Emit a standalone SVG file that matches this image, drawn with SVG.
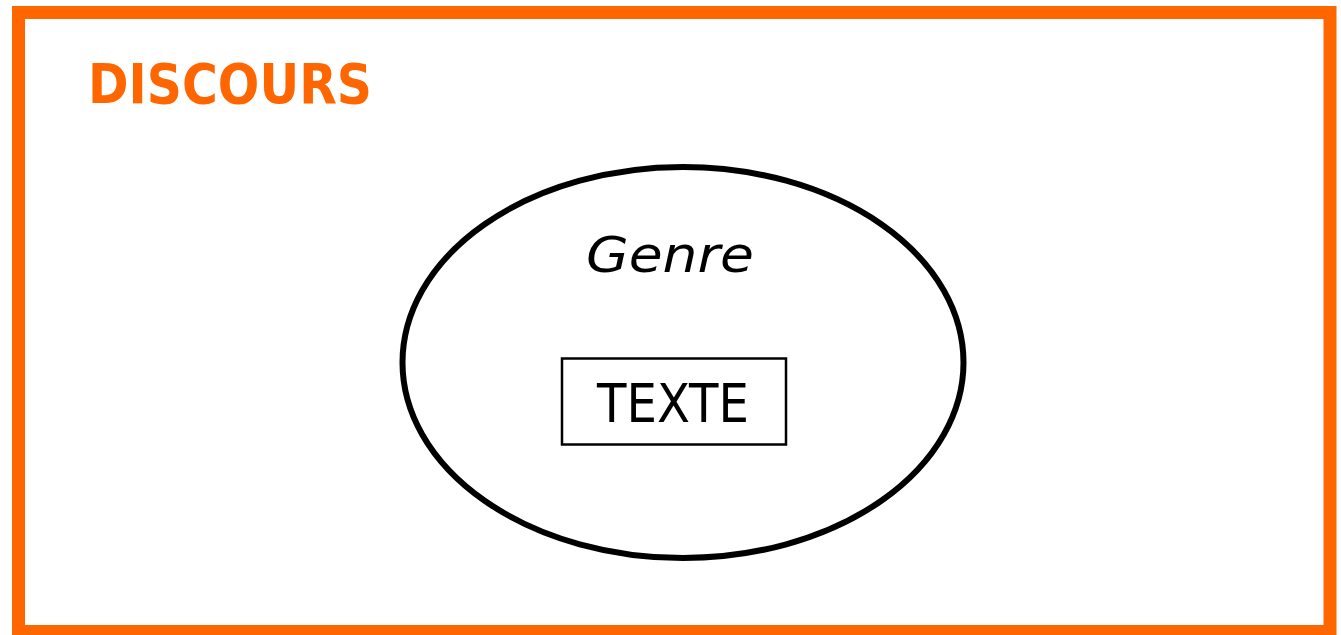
<svg xmlns="http://www.w3.org/2000/svg" width="1341" height="635" viewBox="0 0 1341 635">
<style>
.frame{fill:none;stroke:#ff6600;stroke-width:13}
.title{font-family:"DejaVu Sans",Verdana,sans-serif;font-weight:bold;fill:#ff6600}
.lbl{font-family:"DejaVu Sans",Verdana,sans-serif;fill:#000}
</style>
<rect x="0" y="0" width="1341" height="635" fill="#fff"/>
<g id="discours">
<rect class="frame" x="18.5" y="12.5" width="1311.5" height="619"/>
<text class="title" x="88" y="103" font-size="55" textLength="284" lengthAdjust="spacingAndGlyphs">DISCOURS</text>
</g>
<g id="genre">
<ellipse cx="683" cy="362.5" rx="280.5" ry="195.5" fill="none" stroke="#000" stroke-width="6"/>
<text class="lbl" x="586" y="272" font-size="50" font-style="italic" textLength="168" lengthAdjust="spacingAndGlyphs">Genre</text>
</g>
<g id="texte">
<rect x="562" y="358.5" width="224" height="86" fill="none" stroke="#000" stroke-width="2.5"/>
<text class="lbl" x="597" y="422" font-size="53" textLength="152" lengthAdjust="spacingAndGlyphs">TEXTE</text>
</g>
<g id="connectors"/>
</svg>
